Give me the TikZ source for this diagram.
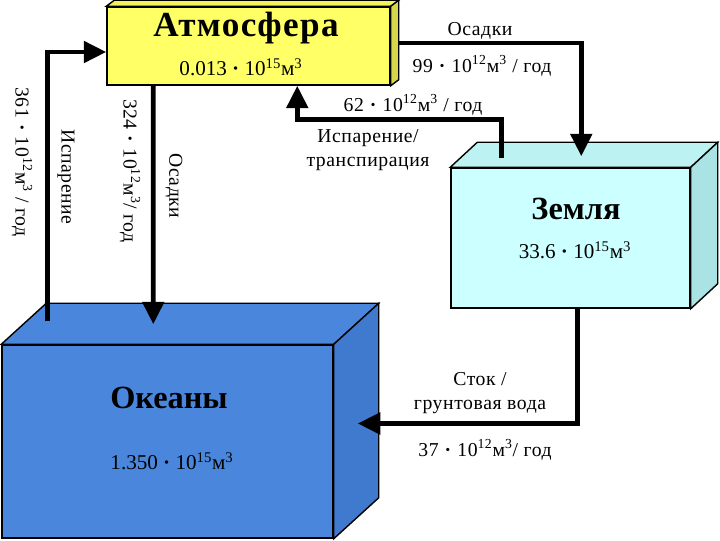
\documentclass[tikz,border=0pt]{standalone}
\usepackage{fontspec}
\setmainfont{Liberation Serif}
\usetikzlibrary{arrows.meta,calc}

\definecolor{atmfront}{HTML}{FFFF66}
\definecolor{atmtop}{HTML}{F2F25A}
\definecolor{atmside}{HTML}{D6D64A}
\definecolor{landfront}{HTML}{CCFFFF}
\definecolor{landtop}{HTML}{BDF2F2}
\definecolor{landside}{HTML}{A9E3E3}
\definecolor{oceanfront}{HTML}{4A86DC}
\definecolor{oceantop}{HTML}{4A86DC}
\definecolor{oceanside}{HTML}{3F7ACE}

\tikzset{
  face/.style={draw=black, line width=1pt, inner sep=0pt},
  flow/.style={line width=3.5pt, -{Triangle[length=16pt,width=15pt]}},
  title/.style={font=\bfseries\fontsize{23}{26}\selectfont},
  amount/.style={font=\fontsize{15}{17}\selectfont},
  flowlabel/.style={font=\fontsize{14}{17}\selectfont\addfontfeature{LetterSpace=3},
    align=center, inner sep=0pt},
}

\begin{document}
\begin{tikzpicture}[x=0.025cm, y=-0.025cm]
  \useasboundingbox (0,0) rectangle (720,540);

  % atmosphere
  \node[face, fill=atmfront, minimum width=7.075cm, minimum height=1.95cm]
    (atm) at (248.5,46) {};
  \draw[face, fill=atmtop] (atm.north west) -- ++(8,-6)
    -- ($(atm.north east)+(8,-6)$) -- (atm.north east) -- cycle;
  \draw[face, fill=atmside] (atm.north east) -- ++(8,-6)
    -- ($(atm.south east)+(8,-6)$) -- (atm.south east) -- cycle;
  \node[title, font=\bfseries\fontsize{25}{28}\selectfont\addfontfeature{LetterSpace=4}]
    (atmname) at (246,28) {Атмосфера};
  \node[amount] (atmvol) at (241,67) {0.013 \textbf{·} 10\textsuperscript{15}м\textsuperscript{3}};

  % land
  \node[face, fill=landfront, minimum width=5.975cm, minimum height=3.5cm]
    (land) at (570.5,238) {};
  \draw[face, fill=landtop] (land.north west) -- ++(27,-25)
    -- ($(land.north east)+(27,-25)$) -- (land.north east) -- cycle;
  \draw[face, fill=landside] (land.north east) -- ++(27,-25)
    -- ($(land.south east)+(27,-25)$) -- (land.south east) -- cycle;
  \node[title] (landname) at (576,209) {Земля};
  \node[amount] (landvol) at (575,250) {33.6 \textbf{·} 10\textsuperscript{15}м\textsuperscript{3}};

  % oceans
  \node[face, fill=oceanfront, minimum width=8.275cm, minimum height=4.825cm]
    (ocean) at (167.5,441.5) {};
  \draw[face, fill=oceantop] (ocean.north west) -- ++(45,-41)
    -- ($(ocean.north east)+(45,-41)$) -- (ocean.north east) -- cycle;
  \draw[face, fill=oceanside] (ocean.north east) -- ++(45,-41)
    -- ($(ocean.south east)+(45,-41)$) -- (ocean.south east) -- cycle;
  \node[title] (oceanname) at (169,398) {Океаны};
  \node[amount] (oceanvol) at (172,461) {1.350 \textbf{·} 10\textsuperscript{15}м\textsuperscript{3}};

  % flows
  \draw[flow] ($(ocean.north west)+(46,-23)$) |- ($(atm.west)+(0,6)$);
  \draw[flow] ($(atm.south west)+(47,0)$) -- ($(ocean.north west)+(152,-20)$);
  \draw[flow] ($(atm.east)+(8,-3)$) -| ($(land.north west)+(131,-11)$);
  \draw[flow] ($(land.north west)+(51,-9)$) |- ($(atm.south west)+(191,34)$)
    -- ($(atm.south west)+(191,0)$);
  \draw[flow] ($(land.south west)+(127,0)$) |- ($(ocean.east)+(24,-18)$);

  % labels
  \node[flowlabel, rotate=-90] (evapval) at (22,162) {361 \textbf{·} 10\textsuperscript{12}м\textsuperscript{3} / год};
  \node[flowlabel, rotate=-90] (evaplbl) at (66,177) {Испарение};
  \node[flowlabel, rotate=-90] (precval) at (130,171) {324 \textbf{·} 10\textsuperscript{12}м\textsuperscript{3}/ год};
  \node[flowlabel, rotate=-90] (preclbl) at (174,186) {Осадки};
  \node[flowlabel] (landpreclbl) at (480,31) {Осадки};
  \node[flowlabel] (landprecval) at (482,66) {99 \textbf{·} 10\textsuperscript{12}м\textsuperscript{3} / год};
  \node[flowlabel] (transval) at (413,105) {62 \textbf{·} 10\textsuperscript{12}м\textsuperscript{3} / год};
  \node[flowlabel] (translbl) at (368,150) {Испарение/\\транспирация};
  \node[flowlabel] (runlbl) at (480,393) {Сток /\\грунтовая вода};
  \node[flowlabel] (runval) at (485,450) {37 \textbf{·} 10\textsuperscript{12}м\textsuperscript{3}/ год};
\end{tikzpicture}
\end{document}
